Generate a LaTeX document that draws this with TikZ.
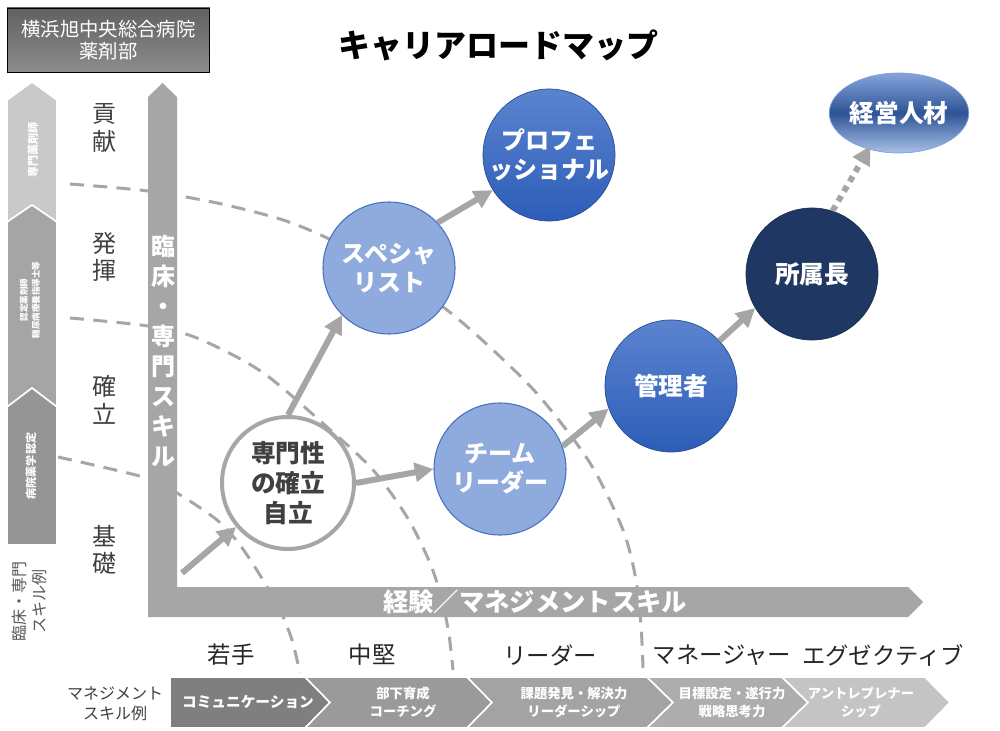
\documentclass[tikz,border=0pt]{standalone}
\usepackage{fontspec}
\setmainfont{Noto Sans CJK JP}
\usetikzlibrary{arrows.meta,shapes.geometric,shadings}
\definecolor{axisgray}{HTML}{A6A6A6}
\definecolor{arcgray}{HTML}{A6A6A6}
\definecolor{txtgray}{HTML}{404040}
\definecolor{lightblue}{HTML}{8FAADC}
\definecolor{edgeblue}{HTML}{4472C4}
\definecolor{bluetop}{HTML}{5B84CF}
\definecolor{bluebot}{HTML}{2D5DB8}
\definecolor{navy}{HTML}{1F3763}
\definecolor{keitop}{HTML}{86A4DB}
\definecolor{keimid}{HTML}{2E5496}
\definecolor{keibot}{HTML}{A8C0E8}
\definecolor{keiedge}{HTML}{7F9FD8}
\definecolor{chevA}{HTML}{C9C9C9}
\definecolor{chevB}{HTML}{A5A5A5}
\definecolor{chevC}{HTML}{959595}
\definecolor{segA}{HTML}{7F7F7F}
\definecolor{segB}{HTML}{9A9A9A}
\definecolor{segC}{HTML}{A3A3A3}
\definecolor{segD}{HTML}{ADADAD}
\definecolor{segE}{HTML}{C4C4C4}
\tikzset{
  arcline/.style={draw=arcgray, line width=2.25pt, dash pattern=on 10.5pt off 7pt},
  arr/.style={draw=axisgray, line width=4.5pt, -{Triangle[length=14pt,width=14pt]}},
  dotarr/.style={draw=axisgray, line width=4.5pt, dash pattern=on 4.5pt off 4pt, -{Triangle[length=14pt,width=14pt]}},
  lvl/.style={text=txtgray, align=center, font={\fontsize{18}{20.5}\selectfont}},
  stage/.style={text=black!85, font={\fontsize{17.5}{20}\selectfont}},
  bubble/.style={circle, minimum size=99pt, inner sep=0pt, align=center, text=white,
     font={\fontsize{18}{21.75}\selectfont\bfseries}},
  lightbub/.style={bubble, fill=lightblue, draw=edgeblue, line width=0.8pt},
  darkbub/.style={bubble, top color=bluetop, bottom color=bluebot, draw=bluebot!80!black, line width=0.5pt},
  segtext/.style={text=white, align=center, font={\fontsize{10}{14}\selectfont\bfseries}},
  chevtext/.style={text=white, align=center, rotate=90, font={\fontsize{8.3}{10}\selectfont\bfseries}},
  segshape/.style={draw=white, line width=1.2pt},
}
\begin{document}
\begin{tikzpicture}[x=0.75pt,y=-0.75pt]
\useasboundingbox (0,0) rectangle (1000,731);
\fill[white] (0,0) rectangle (1000,731);

% dashed arcs
\draw[arcline] plot[smooth] coordinates {(70,184) (148,191) (217,203) (280,219) (325,237) (390,270) (447,310) (493,350) (540,397) (590,463) (623,530) (636,580) (641,625) (643,668)};
\draw[arcline] plot[smooth] coordinates {(70,318) (148,326) (197,338) (262,372) (327,427) (373,470) (407,517) (430,563) (442,600) (449,635) (453,670)};
\draw[arcline] plot[smooth] coordinates {(58,457) (147,478) (177,493) (217,520) (240,545) (263,580) (280,610) (292,640) (300,673)};

% hospital box
\node[draw=black, line width=0.6pt, top color=black!62, bottom color=black!45,
      minimum width=152pt, minimum height=48pt, inner sep=0pt, align=center, text=white,
      font={\fontsize{14.5}{16.5}\selectfont}] (hosp) at (108.5,40) {横浜旭中央総合病院\\薬剤部};

% title
\node[font={\fontsize{24}{26}\selectfont\bfseries}] (title) at (498,45) {キャリアロードマップ};

% left chevron column
\path[fill=chevA, draw=white, line width=1.2pt] (7,100) -- (32,82) -- (57,100) -- (57,222) -- (32,205) -- (7,222) -- cycle;
\path[fill=chevB, draw=white, line width=1.2pt] (7,222) -- (32,205) -- (57,222) -- (57,407) -- (32,388) -- (7,407) -- cycle;
\path[fill=chevC, draw=white, line width=1.2pt] (7,407) -- (32,388) -- (57,407) -- (57,545) -- (7,545) -- cycle;
\node[chevtext] (c1) at (33,150) {専門薬剤師};
\node[chevtext, font={\fontsize{6.4}{9}\selectfont\bfseries}] (c2) at (30,300) {認定薬剤師\\糖尿病療養指導士等};
\node[chevtext] (c3) at (31,466) {病院薬学認定};
\node[rotate=90, align=center, text=black!65, font={\fontsize{12}{15}\selectfont}] (rinsho) at (29,601) {臨床・専門\\スキル例};

% level labels
\node[lvl] (l1) at (104,128) {貢\\献};
\node[lvl] (l2) at (104,257) {発\\揮};
\node[lvl] (l3) at (104,400) {確\\立};
\node[lvl] (l4) at (104,550) {基\\礎};

% axes
\fill[axisgray] (148,97) -- (162.5,83) -- (177,97) -- (177,587) -- (908,587) -- (923,602) -- (908,617) -- (148,617) -- cycle;
\node[text=white, align=center, font={\fontsize{18}{22.5}\selectfont\bfseries}] (vlab) at (163,351) {臨\\床\\・\\専\\門\\ス\\キ\\ル};
\node[text=white, font={\fontsize{19}{21}\selectfont\bfseries}] (hlab) at (535,602) {経験／マネジメントスキル};

% stage labels
\node[stage] (s1) at (231,655) {若手};
\node[stage] (s2) at (372,655) {中堅};
\node[stage] (s3) at (550,655) {リーダー};
\node[stage] (s4) at (722,655) {マネージャー};
\node[stage] (s5) at (883,655) {エグゼクティブ};

% management skill band
\node[align=center, text=txtgray, font={\fontsize{12}{15}\selectfont}] (mgl) at (115,704) {マネジメント\\スキル例};
\path[segshape, fill=segA] (170,677) -- (305,677) -- (330,702.5) -- (305,728) -- (170,728) -- cycle;
\path[segshape, fill=segB] (305,677) -- (467,677) -- (492,702.5) -- (467,728) -- (305,728) -- (330,702.5) -- cycle;
\path[segshape, fill=segC] (467,677) -- (647,677) -- (673,702.5) -- (647,728) -- (467,728) -- (492,702.5) -- cycle;
\path[segshape, fill=segD] (647,677) -- (782,677) -- (808,702.5) -- (782,728) -- (647,728) -- (673,702.5) -- cycle;
\path[segshape, fill=segE] (782,677) -- (925,677) -- (950,702.5) -- (925,728) -- (782,728) -- (808,702.5) -- cycle;
\node[segtext, font={\fontsize{11}{14}\selectfont\bfseries}] (t1) at (248,702.5) {コミュニケーション};
\node[segtext] (t2) at (403,702.5) {部下育成\\コーチング};
\node[segtext] (t3) at (574,702.5) {課題発見・解決力\\リーダーシップ};
\node[segtext] (t4) at (732,702.5) {目標設定・遂行力\\戦略思考力};
\node[segtext] (t5) at (861,702.5) {アントレプレナー\\シップ};

% bubbles
\node[bubble, fill=white, draw=axisgray, line width=3pt, text=txtgray,
      font={\fontsize{18.5}{22.5}\selectfont\bfseries}] (sen) at (288,483) {専門性\\の確立\\自立};
\node[lightbub] (spec) at (389,268) {スペシャ\\リスト};
\node[darkbub] (prof) at (549,155) {プロフェ\\ッショナル};
\node[lightbub] (team) at (500,469) {チーム\\リーダー};
\node[darkbub, font={\fontsize{18.5}{21}\selectfont\bfseries}] (kanri) at (671,386) {管理者};
\node[bubble, fill=navy, draw=navy!80!black, line width=0.5pt, font={\fontsize{18.5}{21}\selectfont\bfseries}] (sho) at (812,274) {所属長};
\node[ellipse, minimum width=99pt, minimum height=60pt, inner sep=0pt, text=white,
      top color=keitop, bottom color=keibot, middle color=keimid,
      draw=keiedge, line width=0.5pt,
      font={\fontsize{18.5}{21}\selectfont\bfseries}] (kei) at (899,113) {経営人材};

% arrows
\coordinate (start) at (182,573);
\draw[arr] (start) -- (sen);
\draw[arr] (sen.north) -- (spec.225);
\draw[arr] (sen.east) -- (team.west);
\draw[arr] (spec.43) -- (prof.212);
\draw[arr] (team.20) -- (kanri.200);
\draw[arr] (kanri.43) -- (sho.211);
\draw[dotarr, shorten >=-3pt] (sho.72) -- (kei.230);
\end{tikzpicture}
\end{document}
